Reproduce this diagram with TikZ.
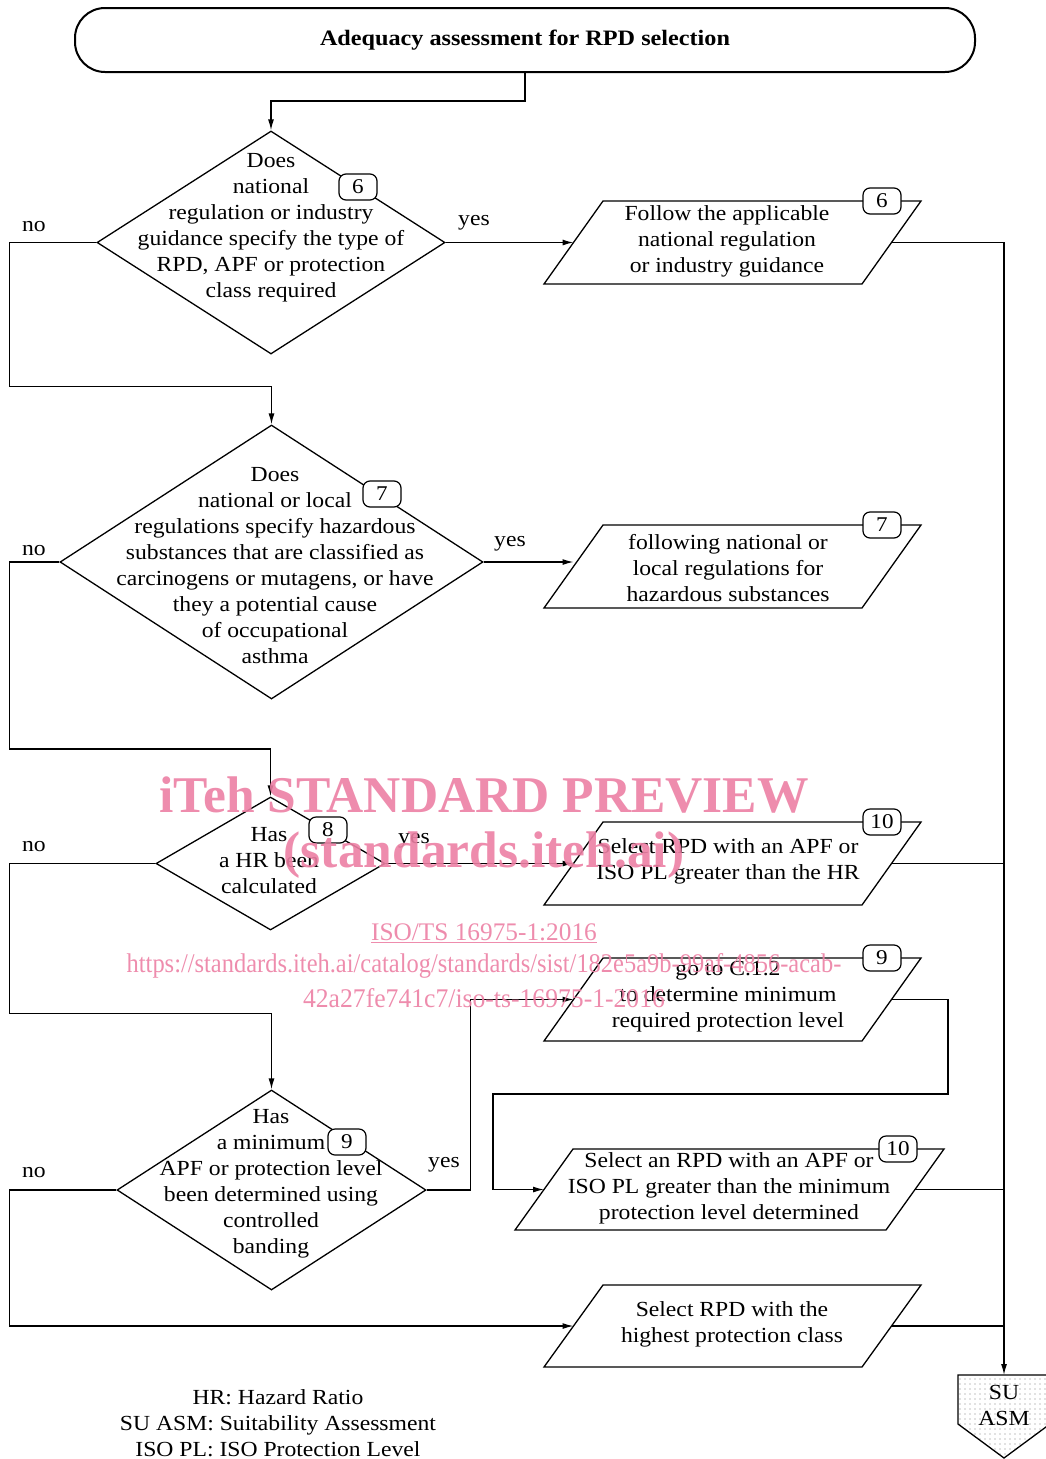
\documentclass[tikz,border=0pt]{standalone}
\usepackage{fontspec}
\setmainfont{Liberation Serif}[FakeStretch=1.1]
\newfontfamily\wmfont{Liberation Serif}
\usetikzlibrary{shapes.geometric,arrows.meta,patterns.meta,calc}
\definecolor{wmpink}{RGB}{236,128,164}
\newcommand\mypara[6]{%
  \coordinate (#1-bl) at (#2,-#3);
  \coordinate (#1-tl) at (#2+#6,-#4);
  \coordinate (#1-tr) at (#2+#6+#5,-#4);
  \coordinate (#1-br) at (#2+#5,-#3);
  \draw (#1-bl) -- (#1-tl) -- (#1-tr) -- (#1-br) -- cycle;
  \coordinate (#1-l) at ($(#1-bl)!0.5!(#1-tl)$);
  \coordinate (#1-r) at ($(#1-br)!0.5!(#1-tr)$);
}
\begin{document}
\begin{tikzpicture}[x=1pt,y=1pt, line width=1.3pt,
  txt/.style={align=center, font=\fontsize{21.5}{26}\selectfont, inner sep=0pt},
  lbl/.style={font=\fontsize{21.5}{24}\selectfont, inner sep=0pt},
  badge/.style={draw, fill=white, rounded corners=7pt, minimum width=38pt, minimum height=26pt, inner sep=1pt, font=\fontsize{21}{24}\selectfont, line width=1.2pt},
  dia/.style={diamond, draw, inner sep=0pt},
  arr/.style={-{Latex[length=11pt,width=6pt]}},
  wm/.style={text=wmpink, inner sep=0pt, opacity=0.9}
]
\useasboundingbox (0,0) rectangle (1046,-1459);

% title
\node[draw, line width=2pt, rounded corners=30pt, minimum width=900pt, minimum height=64pt,
      font=\bfseries\fontsize{22}{24}\selectfont] (top) at (525,-40) {Adequacy assessment for RPD selection};

% diamonds
\node[dia, minimum width=348pt, minimum height=223pt] (d1) at (271,-242.5) {};
\node[txt] (d1t) at (271,-228) {Does\\national\\regulation or industry\\guidance specify the type of\\RPD, APF or protection\\class required};
\node[dia, minimum width=423pt, minimum height=274pt] (d2) at (271.5,-562) {};
\node[txt] (d2t) at (275,-566) {Does\\national or local\\regulations specify hazardous\\substances that are classified as\\carcinogens or mutagens, or have\\they a potential cause\\of occupational\\asthma};
\node[dia, minimum width=229pt, minimum height=133pt] (d3) at (270.5,-863.5) {};
\node[txt] (d3t) at (269,-861) {Has\\a HR been\\calculated};
\node[dia, minimum width=309pt, minimum height=200pt] (d4) at (271.5,-1190) {};
\node[txt] (d4t) at (271,-1184) {Has\\a minimum\\APF or protection level\\been determined using\\controlled\\banding};

% parallelograms
\mypara{p1}{544}{284}{201}{318}{59}
\mypara{p2}{544}{608}{525}{318}{59}
\mypara{p3}{544}{905}{822}{318}{59}
\mypara{p4}{544}{1041}{958}{318}{59}
\mypara{p5}{515}{1230}{1149}{371}{58}
\mypara{p6}{544}{1367}{1285}{318}{59}
\node[txt] (p1t) at (727,-241) {Follow the applicable\\national regulation\\or industry guidance};
\node[txt] (p2t) at (728,-568) {following national or\\local regulations for\\hazardous substances};
\node[txt] (p3t) at (728,-861) {Select RPD with an APF or\\ISO PL greater than the HR};
\node[txt] (p4t) at (728,-997) {go to C.1.2\\to determine minimum\\required protection level};
\node[txt] (p5t) at (729,-1188) {Select an RPD with an APF or\\ISO PL greater than the minimum\\protection level determined};
\node[txt] (p6t) at (732,-1324) {Select RPD with the\\highest protection class};

% SU ASM
\coordinate (su) at (1004,-1375);
\begin{scope}
\clip (0,0) rectangle (1046,-1459);
\draw[pattern={Dots[distance=5pt,radius=0.6pt]}, pattern color=gray]
  (958,-1375) -- (1050,-1375) -- (1050,-1424) -- (1004,-1458) -- (958,-1424) -- cycle;
\end{scope}
\node[txt] (sut) at (1004,-1405) {SU\\ASM};

% connectors
\draw[arr] (top.south) -- ++(0,-28) -| (d1.north);
\draw[arr] (d1.east) -- (p1-l);
\draw[arr] (d1.west) -| ++(-87,-144) -| (d2.north);
\draw[arr] (d2.east) -- (d2.east -| p2-l);
\draw[arr] (d3.east) -- (p3-l);
\draw[arr] (d2.west) -| ++(-50,-187) -| (d3.north);
\draw[arr] (d3.west) -| ++(-146,-150) -| (d4.north);
\draw[arr] (d4.west) -| ++(-107,-136) -- (p6-l);
\draw[arr] (d4.east) -- ++(44,0) |- (p4-l);
\coordinate (c1) at (948,-1094);
\coordinate (c2) at (493,-1094);
\draw[arr] (p4-r) -| (c1) -- (c2) |- (p5-l);
\draw[arr] (p1-r) -| (su);
\draw (p3-r) -- (p3-r -| su);
\draw (p5-r) -- (p5-r -| su);
\draw (p6-r) -- (p6-r -| su);

% badges
\node[badge] (b1) at (358,-187) {6};
\node[badge] (b1p) at (882,-201) {6};
\node[badge] (b2) at (382,-494) {7};
\node[badge] (b2p) at (882,-525) {7};
\node[badge] (b3) at (328,-830) {8};
\node[badge] (b3p) at (882,-822) {10};
\node[badge] (b4p) at (882,-958) {9};
\node[badge] (b4) at (347,-1142) {9};
\node[badge] (b5p) at (898,-1149) {10};

% labels
\node[lbl] (n1) at (34,-227) {no};
\node[lbl] (n2) at (34,-551) {no};
\node[lbl] (n3) at (34,-847) {no};
\node[lbl] (n4) at (34,-1173) {no};
\node[lbl] (y1) at (474,-223) {yes};
\node[lbl] (y2) at (510,-544) {yes};
\node[lbl] (y3) at (414,-841) {yes};
\node[lbl] (y4) at (444,-1165) {yes};

% legend
\node[txt] (leg) at (278,-1423) {HR: Hazard Ratio\\SU ASM: Suitability Assessment\\ISO PL: ISO Protection Level};

% watermark
\node[wm, font=\wmfont\bfseries\fontsize{51.5}{52}\selectfont] (w1) at (484,-795) {iTeh STANDARD PREVIEW};
\node[wm, font=\wmfont\bfseries\fontsize{51.5}{52}\selectfont] (w2) at (484,-855) {(standards.iteh.ai)};
\node[wm, font=\wmfont\fontsize{25.3}{26}\selectfont] (w3) at (484,-933) {\underline{ISO/TS 16975-1:2016}};
\node[wm, font=\wmfont\fontsize{27}{27}\selectfont, xscale=0.906] (w4) at (484,-966) {https://standards.iteh.ai/catalog/standards/sist/182e5a9b-99af-4856-acab-};
\node[wm, font=\wmfont\fontsize{27}{27}\selectfont, xscale=0.95] (w5) at (484,-998) {42a27fe741c7/iso-ts-16975-1-2016};
\end{tikzpicture}
\end{document}
